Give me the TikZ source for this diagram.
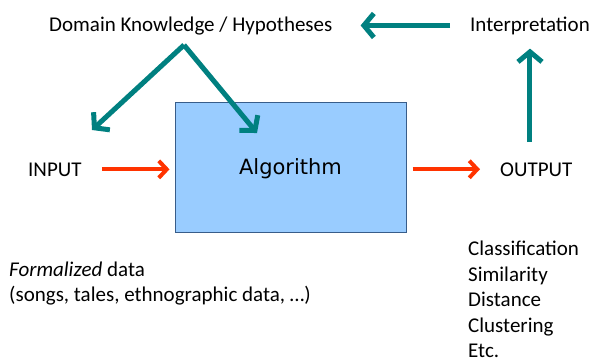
\documentclass[tikz,border=0pt]{standalone}
\usepackage{fontspec}
\setmainfont{Carlito}
\newfontfamily\algfont{DejaVu Sans}
\usetikzlibrary{arrows.meta,calc}
\definecolor{fbteal}{RGB}{0,128,128}
\definecolor{fbred}{RGB}{255,51,0}
\definecolor{fbblue}{RGB}{153,204,255}
\definecolor{fbedge}{RGB}{56,93,138}

\begin{document}
\begin{tikzpicture}[x=1pt,y=-1pt,
    lbl/.style={inner sep=0pt,anchor=base west,font=\fontsize{21}{25.5}\selectfont},
    tealarrow/.style={fbteal,line width=5pt,-{Straight Barb[length=10pt,width=24pt]}},
    redarrow/.style={fbred,line width=4pt,-{Straight Barb[length=8pt,width=17pt]}}]
  \useasboundingbox (0,0) rectangle (594,360);
  \node[lbl] (domain) at (49,31) {Domain Knowledge / Hypotheses};
  \node[lbl] (interp) at (470,31) {Interpretation};
  \node[lbl] (input) at (28,176) {INPUT};
  \node[lbl] (output) at (500,176) {OUTPUT};
  \node[draw=fbedge,fill=fbblue,line width=1pt,minimum width=231pt,minimum height=130pt,
    text depth=0pt,font=\algfont\fontsize{21}{25}\selectfont] (alg) at (290.5,167) {Algorithm};
  % multi-line nodes: base is the last line
  \node[lbl,align=left] (data) at (9,301.5)
    {\textit{Formalized} data\\(songs, tales, ethnographic data, \ldots)};
  \node[lbl,align=left,text depth=0pt] (results) at (468,357.5)
    {Classification\\Similarity\\Distance\\Clustering\\Etc.};
  \coordinate (apex) at (184,45);
  \coordinate (inTip) at (92,130);
  \coordinate (algTip) at (257,133);
  % feedback loop
  \draw[tealarrow,shorten <=20pt,shorten >=28pt] (interp.west) -- (interp.west -| domain.east);
  \draw[tealarrow] (apex) -- (inTip);
  \draw[tealarrow] (apex) -- (algTip);
  \draw[tealarrow,shorten <=20pt,shorten >=14pt] (interp.south |- output.north) -- (interp.south);
  % main flow
  \draw[redarrow,shorten <=20pt,shorten >=5pt] (input.east) -- (input.east -| alg.west);
  \draw[redarrow,shorten <=6pt,shorten >=20pt] (alg.east |- output.west) -- (output.west);
\end{tikzpicture}
\end{document}
